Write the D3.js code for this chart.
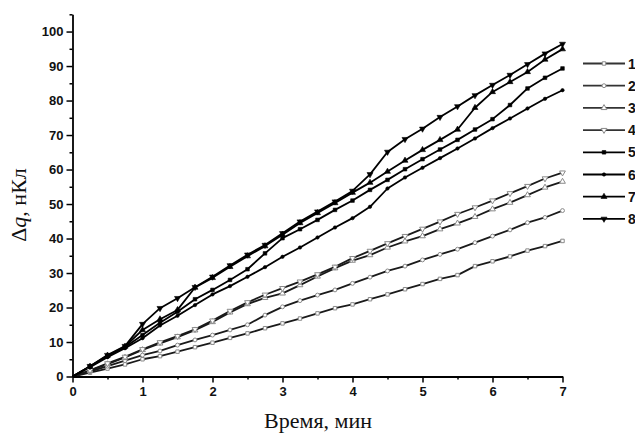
<!DOCTYPE html>
<html><head><meta charset="utf-8">
<script src="https://cdn.jsdelivr.net/npm/d3@7"></script>
<style>
html,body{margin:0;padding:0;background:#fff;}
svg{display:block;}
</style></head>
<body>
<svg id="chart" width="635" height="433"></svg>
<script>
const time = [0,0.25,0.5,0.75,1,1.25,1.5,1.75,2,2.25,2.5,2.75,3,3.25,3.5,3.75,4,4.25,4.5,4.75,5,5.25,5.5,5.75,6,6.25,6.5,6.75,7];
const s1 = [0,1.1,2.3,3.5,5.0,5.9,7.2,8.5,9.8,11.2,12.5,14.0,15.4,16.8,18.3,19.8,20.9,22.4,23.8,25.3,26.8,28.3,29.4,32.0,33.4,34.8,36.5,37.8,39.3];
const s2 = [0,1.4,3.0,4.6,6.2,7.4,9.1,10.6,12.0,13.5,15.0,17.8,20.2,22.0,23.6,25.1,27.0,28.8,30.6,32.0,33.8,35.4,36.9,38.8,40.7,42.5,44.6,46.1,48.1];
const s3 = [0,1.7,3.6,5.5,7.7,9.6,11.4,13.4,15.8,18.6,21.0,22.8,24.1,26.5,29.0,31.4,33.6,35.2,37.4,39.2,40.7,42.7,44.4,46.3,48.5,50.4,52.6,54.8,56.5];
const s4 = [0,1.8,3.8,5.7,7.9,9.9,11.7,13.7,16.2,19.0,21.5,23.7,25.6,27.5,29.6,31.8,34.3,36.4,38.6,40.7,42.8,44.9,47.1,49.0,51.0,53.1,55.2,57.4,59.1];
const s5 = [0,2.9,5.9,8.5,12.0,15.6,18.8,22.4,25.1,28.0,31.1,35.7,40.1,42.7,45.4,48.3,51.0,54.1,57.0,60.1,63.0,65.8,68.6,71.6,74.6,78.7,83.5,86.6,89.3];
const s6 = [0,2.7,5.6,8.2,11.1,14.8,17.6,20.7,23.8,26.2,28.9,31.7,34.7,37.4,40.3,43.2,45.9,49.2,54.5,57.7,60.5,63.3,66.1,69.0,72.0,74.8,77.7,80.5,83.0];
const s7 = [0,2.9,6.1,8.7,13.5,16.6,19.3,25.8,28.6,31.8,34.9,37.8,41.1,44.5,47.4,50.3,53.3,56.2,59.4,62.6,65.7,68.6,71.6,77.9,82.5,85.4,88.3,91.9,94.9];
const s8 = [0,3.0,6.2,8.8,15.2,19.8,22.7,25.9,28.9,32.2,35.3,38.1,41.5,44.9,47.8,50.7,53.8,58.6,65.1,68.8,71.8,75.2,78.3,81.5,84.5,87.4,90.5,93.6,96.4];
const seriesNames = ["1","2","3","4","5","6","7","8"];
const xMajorTicks = [0,1,2,3,4,5,6,7];
const xMinorTicks = [0.5,1.5,2.5,3.5,4.5,5.5,6.5];
const yMajorTicks = [0,10,20,30,40,50,60,70,80,90,100];
const yMinorTicks = [5,15,25,35,45,55,65,75,85,95,105];
const xTitle = "Время, мин";

const allSeries = [s1,s2,s3,s4,s5,s6,s7,s8];
const markerType = ["square","circle","tri","tridown","square","circle","tri","tridown"];
const markerFilled = [false,false,false,false,true,true,true,true];

const svg = d3.select("#chart");
const x = d3.scaleLinear().domain([0,7]).range([72.5,562.5]);
const y = d3.scaleLinear().domain([0,105]).range([376.5,14.3]);

function symPath(t, size){
  if(t==="square") return d3.symbol(d3.symbolSquare, size)();
  if(t==="circle") return d3.symbol(d3.symbolCircle, size)();
  return d3.symbol(d3.symbolTriangle, size*1.2)();
}
function mSize(k){
  if(markerFilled[k]) return markerType[k]==="circle" ? 9 : 13;
  return 12;
}

// series lines
const line = d3.line().x((d,i)=>x(time[i])).y(d=>y(d));
const plot = svg.append("g");
allSeries.forEach((s,k)=>{
  plot.append("path").attr("d", line(s)).attr("fill","none")
    .attr("stroke", markerFilled[k] ? "#000" : "#1a1a1a").attr("stroke-width",1.8)
    .attr("stroke-linejoin","round");
});
allSeries.forEach((s,k)=>{
  const g = plot.append("g");
  s.forEach((v,i)=>{
    if(i===0) return;
    const filled = markerFilled[k];
    g.append("path").attr("d", symPath(markerType[k], mSize(k)))
      .attr("transform", `translate(${x(time[i])},${y(v)})` + (markerType[k]==="tridown" ? " rotate(180)" : ""))
      .attr("fill", filled ? "#000" : "#fff")
      .attr("stroke", filled ? "#000" : "#8a8a8a")
      .attr("stroke-width", filled ? 0.6 : 1);
  });
});

// axes
const axG = svg.append("g");
axG.append("g").attr("transform","translate(0,376.5)")
  .call(d3.axisBottom(x).tickValues(xMajorTicks).tickFormat(d3.format("d")).tickSize(6).tickSizeOuter(0).tickPadding(4));
axG.append("g").attr("transform","translate(0,376.5)")
  .call(d3.axisBottom(x).tickValues(xMinorTicks).tickFormat("").tickSize(3).tickSizeOuter(0))
  .select(".domain").remove();
axG.append("g").attr("transform","translate(72.5,0)")
  .call(d3.axisLeft(y).tickValues(yMajorTicks).tickFormat(d3.format("d")).tickSize(6).tickSizeOuter(0).tickPadding(3));
axG.append("g").attr("transform","translate(72.5,0)")
  .call(d3.axisLeft(y).tickValues(yMinorTicks).tickFormat("").tickSize(3).tickSizeOuter(0))
  .select(".domain").remove();
axG.selectAll(".domain").attr("stroke","#000").attr("stroke-width",1.8);
axG.selectAll(".tick line").attr("stroke","#000").attr("stroke-width",1.5);
axG.selectAll(".tick text").attr("fill","#111")
  .style("font-family","'Liberation Sans', Arial, sans-serif").style("font-weight","bold").style("font-size","13px");

// axis titles
svg.append("text").attr("x",318).attr("y",428).attr("text-anchor","middle")
  .style("font-family","'Liberation Serif','Times New Roman',serif").style("font-size","22px").attr("fill","#111")
  .text(xTitle);
const yt = svg.append("text").attr("transform","translate(26,205) rotate(-90)").attr("text-anchor","middle")
  .style("font-family","'Liberation Serif','Times New Roman',serif").style("font-size","22px").attr("fill","#111");
yt.append("tspan").text("Δ");
yt.append("tspan").style("font-style","italic").text("q");
yt.append("tspan").text(", нКл");

// legend
const leg = svg.append("g");
seriesNames.forEach((nm,k)=>{
  const ly = 63.5 + k*22.2;
  leg.append("line").attr("x1",583).attr("x2",625).attr("y1",ly).attr("y2",ly)
    .attr("stroke", markerFilled[k] ? "#000" : "#333").attr("stroke-width",1.8);
  const filled = markerFilled[k];
  leg.append("path").attr("d", symPath(markerType[k], mSize(k)))
    .attr("transform", `translate(604,${ly})` + (markerType[k]==="tridown" ? " rotate(180)" : ""))
    .attr("fill", filled ? "#000" : "#fff").attr("stroke", filled ? "#000" : "#8a8a8a").attr("stroke-width", filled?0.6:1);
  leg.append("text").attr("x",628).attr("y",ly+5).text(nm)
    .style("font-family","'Liberation Sans', Arial, sans-serif").style("font-weight","bold").style("font-size","14px").attr("fill","#111");
});
</script>
</body></html>
